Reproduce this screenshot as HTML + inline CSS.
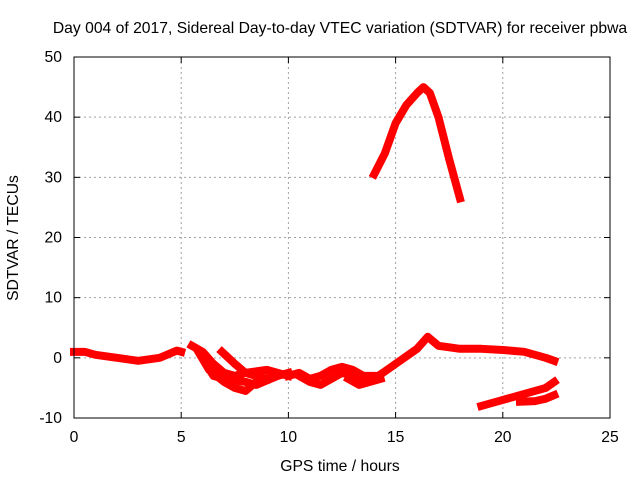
<!DOCTYPE html>
<html><head><meta charset="utf-8"><style>
body{margin:0;background:#fff}
svg text{font-family:"Liberation Sans",sans-serif;font-size:15.7px;fill:#000}
</style></head><body>
<svg id="chart" width="640" height="480">
<text x="340" y="33" text-anchor="middle">Day 004 of 2017, Sidereal Day-to-day VTEC variation (SDTVAR) for receiver pbwa</text>
<text x="340" y="471" text-anchor="middle">GPS time / hours</text>
<text transform="translate(18,238) rotate(-90)" text-anchor="middle">SDTVAR / TECUs</text>
<g id="grid"></g><g id="series"></g><g id="axes"></g>
</svg>
<script>
const xTicks=[0,5,10,15,20,25];
const yTicks=[-10,0,10,20,30,40,50];
const seriesA=[[0,1],[0.5,1],[1,0.5],[2,0],[3,-0.5],[4,0],[4.8,1.2],[5,1]];
const seriesB=[[5.5,2],[6,1],[6.5,-1],[7,-2.5],[7.5,-3],[8,-2.5],[9,-2],[10,-3]];
const seriesC=[[5.8,1],[6.3,-2],[7,-4],[7.5,-5],[8,-5.5],[8.5,-4],[9.3,-3]];
const seriesD=[[6,0],[6.5,-3],[7,-3.5],[8,-4],[8.5,-4.5],[9.5,-3],[10,-2.5]];
const seriesE=[[6.9,1],[7.5,-1],[8,-2.5],[8.5,-3],[9,-3.5]];
const seriesF=[[10,-3],[10.5,-2.5],[11,-3.5],[11.5,-3],[12,-2],[12.5,-1.5],[13,-2],[13.5,-3],[14,-3]];
const seriesG=[[10.5,-3],[11,-4],[11.5,-4.5],[12,-3.5],[12.5,-2.5],[13,-3],[13.5,-4],[14,-3.5],[15,-1],[16,1.5],[16.5,3.5],[17,2],[18,1.5],[19,1.5],[20,1.3],[21,1],[21.5,0.5],[22,0],[22.4,-0.5]];
const seriesJ=[[12.8,-3.5],[13.3,-4.5],[13.8,-4],[14.3,-3.5]];
const seriesH=[[19,-8],[19.5,-7.5],[20,-7],[21,-6],[22,-5],[22.4,-4]];
const seriesI=[[20.8,-7.3],[21.5,-7.2],[22,-6.8],[22.4,-6.2]];
const seriesTop=[[14,30.5],[14.5,34],[15,39],[15.5,42],[16,44],[16.3,45],[16.6,44],[17,40],[17.5,33],[18,26.5]];
const X0=74,X1=610,Y0=418,Y1=57;
const xs=v=>X0+(v-0)/(25-0)*(X1-X0);
const ys=v=>Y0-(v+10)/60*(Y0-Y1);
const NS="http://www.w3.org/2000/svg";
function mk(t,a,p){const e=document.createElementNS(NS,t);for(const k in a)e.setAttribute(k,a[k]);p.appendChild(e);return e;}
const grid=document.getElementById('grid'),axes=document.getElementById('axes'),ser=document.getElementById('series');
xTicks.forEach(t=>{
 if(t>0&&t<25){const g=mk('line',{x1:xs(t),x2:xs(t),y1:Y1,y2:Y0,stroke:'#a0a0a0','stroke-dasharray':'2,3'},grid);
 
 }
 const l=mk('text',{x:xs(t),y:Y0+24,'text-anchor':'middle'},axes);l.textContent=t;
 
 
 mk('line',{x1:xs(t),x2:xs(t),y1:Y0,y2:Y0-6,stroke:'#000'},axes);
 mk('line',{x1:xs(t),x2:xs(t),y1:Y1,y2:Y1+6,stroke:'#000'},axes);
});
yTicks.forEach(t=>{
 if(t>-10&&t<50){const g=mk('line',{x1:X0,x2:X1,y1:ys(t),y2:ys(t),stroke:'#a0a0a0','stroke-dasharray':'2,3'},grid);
 
 }
 const l=mk('text',{x:X0-12,y:ys(t)+5,'text-anchor':'end'},axes);l.textContent=t;
 
 
 mk('line',{x1:X0,x2:X0+6,y1:ys(t),y2:ys(t),stroke:'#000'},axes);
 mk('line',{x1:X1,x2:X1-6,y1:ys(t),y2:ys(t),stroke:'#000'},axes);
});
const fr=mk('rect',{x:X0,y:Y1,width:X1-X0,height:Y0-Y1,fill:'none',stroke:'#000'},axes);


[seriesA,seriesB,seriesC,seriesD,seriesE,seriesF,seriesG,seriesJ,seriesH,seriesI,seriesTop].forEach((s,i)=>{
 const p=mk('polyline',{points:s.map(d=>xs(d[0])+','+ys(d[1])).join(' '),fill:'none',stroke:'#ff0000','stroke-width':8,'stroke-linejoin':'round','stroke-linecap':'square'},ser);
 
 
});
</script>
</body></html>
